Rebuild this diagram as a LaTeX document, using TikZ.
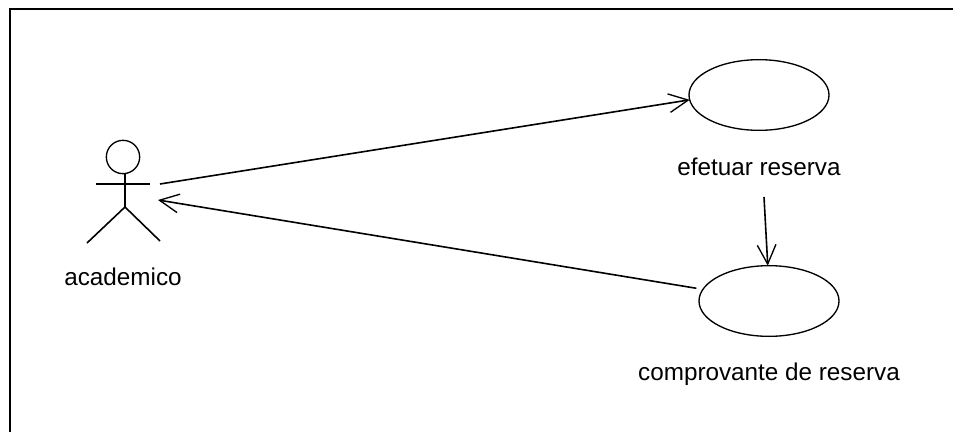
\documentclass[tikz,border=0pt]{standalone}
\usepackage{fontspec}
\setmainfont{Liberation Sans}
\usetikzlibrary{arrows.meta,shapes.geometric}
\begin{document}
\begin{tikzpicture}[x=0.75pt,y=-0.75pt,
  usecase/.style={ellipse,draw=black,line width=1pt,minimum width=105pt,minimum height=53pt,inner sep=0pt,outer sep=0pt},
  txt/.style={font=\fontsize{18.2}{21}\selectfont,inner sep=0pt},
  limb/.style={line width=1.2pt,black},
  ar/.style={-{Straight Barb[length=14.5pt,width=14pt,line width=1pt]},line width=1.2pt,black}]
\useasboundingbox (0,0) rectangle (953,432);
% frame
\coordinate (fa) at (10,432);
\coordinate (fb) at (10,9);
\coordinate (fc) at (953,9);
\draw[line width=2pt] (fa)--(fb)--(fc);
% actor
\node[circle,draw=black,line width=1pt,minimum size=25pt,inner sep=0pt,outer sep=0pt] (head) at (123,157) {};
\coordinate (hip) at (125,207);
\coordinate (neck) at (125,173);
\coordinate (armL) at (96,184);
\coordinate (armR) at (150,184);
\coordinate (footL) at (87,243);
\coordinate (footR) at (160,241);
\draw[limb] (neck)--(hip);
\draw[limb] (armL)--(armR);
\draw[limb] (footL)--(hip)--(footR);
\node[txt] (academico) at (123,277) {academico};
% use cases
\node[usecase] (efetuar) at (759,95) {};
\node[txt] (lefetuar) at (759,167) {efetuar reserva};
\node[usecase] (comprovante) at (769,301) {};
\node[txt] (lcomprovante) at (769,374) {comprovante de reserva};
% connectors
\coordinate (outA) at (160,184);
\coordinate (inA) at (158,200);
\coordinate (outB) at (764,197);
\draw[ar] (outA)--(efetuar.184);
\draw[ar,shorten <=5pt] (comprovante.170)--(inA);
\draw[ar] (outB)--(comprovante.92);
\end{tikzpicture}
\end{document}
